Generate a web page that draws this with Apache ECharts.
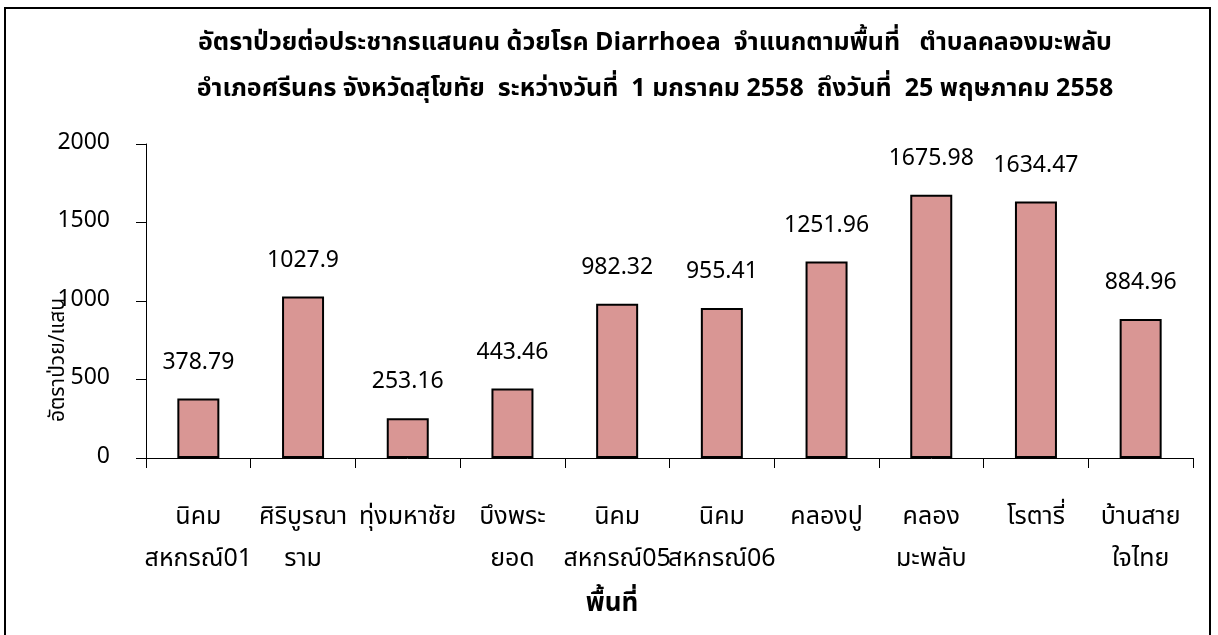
<html>
<head>
    <meta charset="utf-8">
    <title>ECharts</title>
    <script src="https://cdn.jsdelivr.net/npm/echarts@6/dist/echarts.min.js"></script>
    <style>
        body { margin: 0; background: #fff; }
    </style>
</head>
<body>
    <div id="main" style="width: 1218px;height:635px;"></div>
    <script type="text/javascript">
        // data
        var areas = ['นิคม\nสหกรณ์01', 'ศิริบูรณา\nราม', 'ทุ่งมหาชัย', 'บึงพระ\nยอด', 'นิคม\nสหกรณ์05',
                     'นิคม\nสหกรณ์06', 'คลองปู', 'คลอง\nมะพลับ', 'โรตารี่', 'บ้านสาย\nใจไทย'];
        var rates = [378.79, 1027.9, 253.16, 443.46, 982.32, 955.41, 1251.96, 1675.98, 1634.47, 884.96];
        var yTicks = [0, 500, 1000, 1500, 2000];

        var titleLine1 = 'อัตราป่วยต่อประชากรแสนคน ด้วยโรค Diarrhoea  จำแนกตามพื้นที่   ตำบลคลองมะพลับ';
        var titleLine2 = 'อำเภอศรีนคร จังหวัดสุโขทัย  ระหว่างวันที่  1 มกราคม 2558  ถึงวันที่  25 พฤษภาคม 2558';
        var yName = 'อัตราป่วย/แสน';
        var xName = 'พื้นที่';

        var font = '"Noto Sans Thai", Tahoma, "Noto Sans", "DejaVu Sans", sans-serif';

        var myChart = echarts.init(document.getElementById('main'));
        var option = {
            animation: false,
            backgroundColor: '#fff',
            textStyle: { fontFamily: font, color: '#000' },
            title: {
                text: titleLine1 + '\n' + titleLine2,
                left: 650,
                textAlign: 'center',
                top: 17,
                textStyle: { fontSize: 25, fontWeight: 'bold', color: '#000', lineHeight: 46, fontFamily: font }
            },
            grid: { left: 146, right: 25, top: 144, bottom: 177 },
            xAxis: {
                type: 'category',
                data: areas,
                axisLine: { lineStyle: { color: '#000', width: 1 } },
                axisTick: { show: true, length: 10, lineStyle: { color: '#000' } },
                axisLabel: { color: '#000', fontSize: 25, lineHeight: 42, margin: 40, interval: 0, fontFamily: font }
            },
            yAxis: {
                type: 'value',
                min: yTicks[0],
                max: yTicks[yTicks.length - 1],
                interval: 500,
                axisLine: { show: true, lineStyle: { color: '#000', width: 1 } },
                axisTick: { show: true, length: 10, lineStyle: { color: '#000' } },
                splitLine: { show: false },
                axisLabel: { color: '#000', fontSize: 23, margin: 36, fontFamily: font,
                             formatter: function (v) { return String(v); } }
            },
            graphic: [
                { type: 'rect', shape: { x: 5, y: 8, width: 1205, height: 640 },
                  style: { fill: 'none', stroke: '#000', lineWidth: 2 }, z: 100 },
                { type: 'text', x: 60, y: 360, rotation: Math.PI / 2,
                  style: { text: yName, fill: '#000', align: 'center', verticalAlign: 'middle', font: '21px ' + font }, z: 50 },
                { type: 'text', x: 612, y: 606,
                  style: { text: xName, fill: '#000', align: 'center', verticalAlign: 'middle', font: 'bold 26px ' + font }, z: 50 }
            ],
            series: [{
                type: 'bar',
                data: rates,
                barWidth: 42,
                itemStyle: { color: '#d99694', borderColor: '#000', borderWidth: 2 },
                label: { show: true, position: 'top', distance: 23, fontSize: 23, color: '#000', fontFamily: font }
            }]
        };
        myChart.setOption(option);
    </script>
</body>
</html>
